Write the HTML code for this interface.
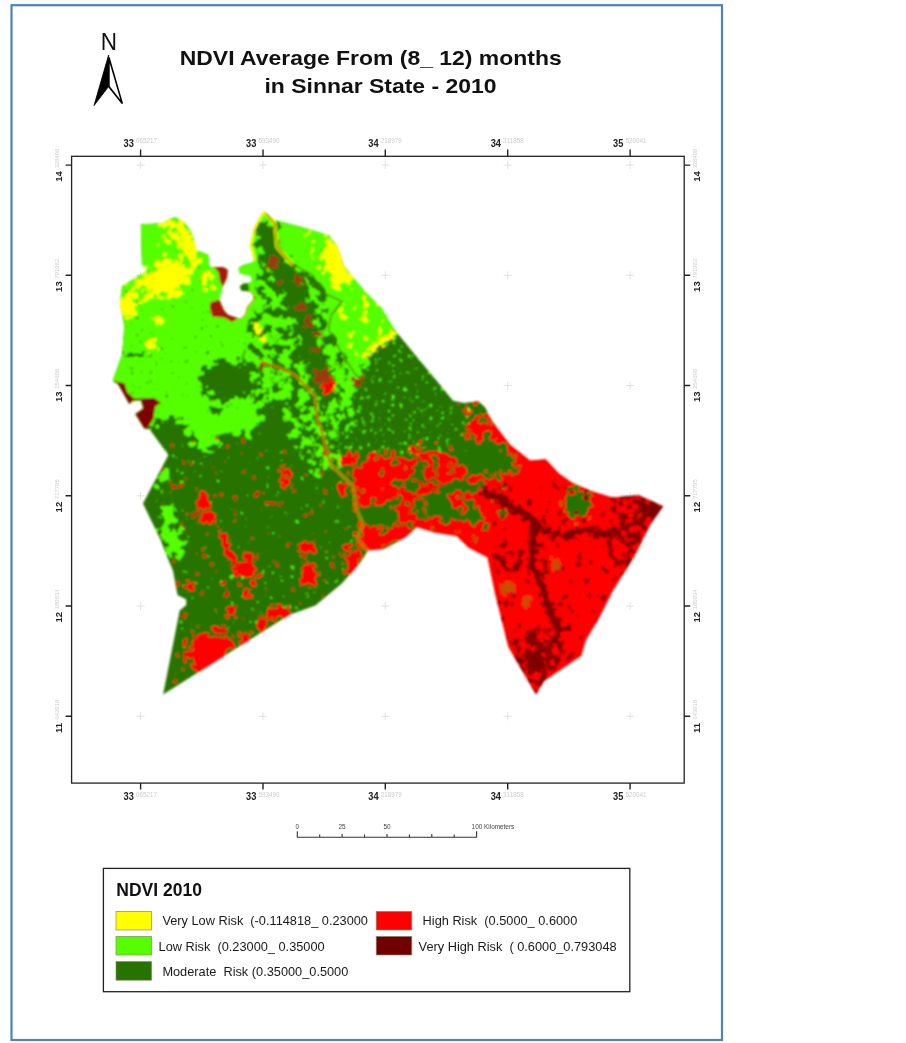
<!DOCTYPE html>
<html lang="en"><head><meta charset="utf-8"><title>NDVI Average From (8_ 12) months in Sinnar State - 2010</title>
<style>
html,body{margin:0;padding:0;background:#fff;}
body{width:906px;height:1043px;overflow:hidden;position:relative;font-family:"Liberation Sans",Arial,sans-serif;}
svg{position:absolute;left:0;top:0;display:block;}
text{font-family:"Liberation Sans",Arial,sans-serif;}
.t{font-weight:bold;font-size:21px;fill:#111;text-anchor:middle;}
.ax{font-weight:bold;font-size:9.5px;fill:#222;}
.sm{fill:#cdcdcd;font-weight:normal;}
.lg{font-size:12.78px;fill:#1a1a1a;white-space:pre;}
.sb{font-size:6.4px;fill:#444;}
</style></head><body>
<svg width="906" height="1043" viewBox="0 0 906 1043">
<defs>
<clipPath id="state"><path d="M140.8,224.3 L163.0,223.3 L168.0,219.5 L175.0,217.2 L184.5,222.0 L192.2,233.8 L195.5,247.0 L196.3,250.0 L208.2,254.8 L209.6,267.6 L214.4,267.3 L223.0,267.0 L227.8,269.7 L227.0,278.0 L223.0,286.0 L219.2,299.4 L222.0,306.0 L224.5,311.0 L228.0,314.8 L238.4,318.6 L241.5,318.0 L245.0,314.8 L247.0,307.0 L253.5,299.5 L253.5,295.5 L250.0,291.5 L241.5,290.8 L239.8,286.5 L243.0,283.8 L251.8,282.2 L251.5,276.0 L240.0,273.5 L238.4,268.5 L242.0,265.5 L253.7,262.0 L253.7,259.0 L250.0,244.8 L254.5,226.5 L263.4,211.0 L274.4,219.9 L300.0,226.5 L328.7,235.3 L337.5,246.4 L344.2,266.2 L353.0,277.3 L366.2,292.7 L381.7,308.2 L394.9,330.2 L414.8,354.5 L436.9,381.0 L453.0,400.8 L464.0,403.0 L478.3,401.3 L485.5,407.7 L489.3,416.5 L497.9,429.0 L510.4,444.9 L530.2,460.4 L545.7,459.3 L559.0,473.6 L572.7,483.1 L590.4,490.8 L612.5,497.5 L638.9,495.3 L663.2,506.3 L650.0,525.0 L634.5,556.0 L612.5,591.3 L599.2,617.8 L585.7,640.4 L581.3,655.8 L543.8,681.2 L536.0,694.5 L523.9,673.5 L508.4,647.0 L495.2,594.0 L487.5,557.6 L468.7,547.7 L456.6,535.9 L434.5,532.6 L416.9,527.0 L405.8,537.0 L383.8,549.1 L368.3,550.2 L359.5,563.5 L341.8,583.4 L315.3,605.4 L289.0,615.0 L231.5,651.3 L163.1,694.4 L179.7,610.5 L186.3,605.0 L186.3,599.5 L177.5,595.0 L173.0,570.8 L168.4,559.8 L159.6,537.8 L143.0,503.6 L168.4,455.0 L149.7,429.6 L144.2,428.5 L135.3,414.0 L143.0,408.6 L141.0,400.6 L133.0,401.2 L129.2,404.0 L119.3,386.3 L117.0,383.0 L113.3,382.0 L113.3,378.8 L122.1,354.5 L124.3,325.8 L119.9,303.8 L122.1,286.1 L147.5,270.6 L141.9,264.0Z"/></clipPath>
<filter id="fYs" x="-25%" y="-25%" width="150%" height="150%" color-interpolation-filters="sRGB"><feGaussianBlur in="SourceAlpha" stdDeviation="1.8" result="b"/><feTurbulence type="fractalNoise" baseFrequency="0.17" numOctaves="3" seed="1"/><feColorMatrix type="matrix" values="0 0 0 0 0 0 0 0 0 0 0 0 0 0 0 1 0 0 0 0" result="n"/><feComposite in="b" in2="n" operator="arithmetic" k1="0" k2="1" k3="4.0" k4="-2.0" result="a1"/><feColorMatrix in="b" type="matrix" values="0 0 0 0 0 0 0 0 0 0 0 0 0 0 0 0 0 0 40 -1.5" result="m"/><feComposite in="a1" in2="m" operator="arithmetic" k1="1" k2="0" k3="0" k4="0" result="a2"/><feColorMatrix in="b" type="matrix" values="0 0 0 0 0 0 0 0 0 0 0 0 0 0 0 0 0 0 6 -5" result="core"/><feComposite in="a2" in2="core" operator="arithmetic" k1="0" k2="1" k3="1" k4="0"/><feColorMatrix type="matrix" values="0 0 0 0 1.000 0 0 0 0 1.000 0 0 0 0 0.000 0 0 0 25 -12.5"/></filter>
<filter id="fYm" x="-25%" y="-25%" width="150%" height="150%" color-interpolation-filters="sRGB"><feGaussianBlur in="SourceAlpha" stdDeviation="3.6" result="b"/><feTurbulence type="fractalNoise" baseFrequency="0.12" numOctaves="3" seed="2"/><feColorMatrix type="matrix" values="0 0 0 0 0 0 0 0 0 0 0 0 0 0 0 1 0 0 0 0" result="n"/><feComposite in="b" in2="n" operator="arithmetic" k1="0" k2="1" k3="4.0" k4="-2.0" result="a1"/><feColorMatrix in="b" type="matrix" values="0 0 0 0 0 0 0 0 0 0 0 0 0 0 0 0 0 0 40 -1.5" result="m"/><feComposite in="a1" in2="m" operator="arithmetic" k1="1" k2="0" k3="0" k4="0" result="a2"/><feColorMatrix in="b" type="matrix" values="0 0 0 0 0 0 0 0 0 0 0 0 0 0 0 0 0 0 6 -5" result="core"/><feComposite in="a2" in2="core" operator="arithmetic" k1="0" k2="1" k3="1" k4="0"/><feColorMatrix type="matrix" values="0 0 0 0 1.000 0 0 0 0 1.000 0 0 0 0 0.000 0 0 0 25 -12.5"/></filter>
<filter id="fYl" x="-25%" y="-25%" width="150%" height="150%" color-interpolation-filters="sRGB"><feGaussianBlur in="SourceAlpha" stdDeviation="6.5" result="b"/><feTurbulence type="fractalNoise" baseFrequency="0.085" numOctaves="3" seed="3"/><feColorMatrix type="matrix" values="0 0 0 0 0 0 0 0 0 0 0 0 0 0 0 1 0 0 0 0" result="n"/><feComposite in="b" in2="n" operator="arithmetic" k1="0" k2="1" k3="4.0" k4="-2.0" result="a1"/><feColorMatrix in="b" type="matrix" values="0 0 0 0 0 0 0 0 0 0 0 0 0 0 0 0 0 0 40 -1.5" result="m"/><feComposite in="a1" in2="m" operator="arithmetic" k1="1" k2="0" k3="0" k4="0" result="a2"/><feColorMatrix in="b" type="matrix" values="0 0 0 0 0 0 0 0 0 0 0 0 0 0 0 0 0 0 6 -5" result="core"/><feComposite in="a2" in2="core" operator="arithmetic" k1="0" k2="1" k3="1" k4="0"/><feColorMatrix type="matrix" values="0 0 0 0 1.000 0 0 0 0 1.000 0 0 0 0 0.000 0 0 0 25 -12.5"/></filter>
<filter id="fLGs" x="-25%" y="-25%" width="150%" height="150%" color-interpolation-filters="sRGB"><feGaussianBlur in="SourceAlpha" stdDeviation="1.8" result="b"/><feTurbulence type="fractalNoise" baseFrequency="0.17" numOctaves="3" seed="4"/><feColorMatrix type="matrix" values="0 0 0 0 0 0 0 0 0 0 0 0 0 0 0 1 0 0 0 0" result="n"/><feComposite in="b" in2="n" operator="arithmetic" k1="0" k2="1" k3="4.0" k4="-2.0" result="a1"/><feColorMatrix in="b" type="matrix" values="0 0 0 0 0 0 0 0 0 0 0 0 0 0 0 0 0 0 40 -1.5" result="m"/><feComposite in="a1" in2="m" operator="arithmetic" k1="1" k2="0" k3="0" k4="0" result="a2"/><feColorMatrix in="b" type="matrix" values="0 0 0 0 0 0 0 0 0 0 0 0 0 0 0 0 0 0 6 -5" result="core"/><feComposite in="a2" in2="core" operator="arithmetic" k1="0" k2="1" k3="1" k4="0"/><feColorMatrix type="matrix" values="0 0 0 0 0.333 0 0 0 0 1.000 0 0 0 0 0.000 0 0 0 25 -12.5"/></filter>
<filter id="fLGm" x="-25%" y="-25%" width="150%" height="150%" color-interpolation-filters="sRGB"><feGaussianBlur in="SourceAlpha" stdDeviation="3.6" result="b"/><feTurbulence type="fractalNoise" baseFrequency="0.12" numOctaves="3" seed="5"/><feColorMatrix type="matrix" values="0 0 0 0 0 0 0 0 0 0 0 0 0 0 0 1 0 0 0 0" result="n"/><feComposite in="b" in2="n" operator="arithmetic" k1="0" k2="1" k3="4.0" k4="-2.0" result="a1"/><feColorMatrix in="b" type="matrix" values="0 0 0 0 0 0 0 0 0 0 0 0 0 0 0 0 0 0 40 -1.5" result="m"/><feComposite in="a1" in2="m" operator="arithmetic" k1="1" k2="0" k3="0" k4="0" result="a2"/><feColorMatrix in="b" type="matrix" values="0 0 0 0 0 0 0 0 0 0 0 0 0 0 0 0 0 0 6 -5" result="core"/><feComposite in="a2" in2="core" operator="arithmetic" k1="0" k2="1" k3="1" k4="0"/><feColorMatrix type="matrix" values="0 0 0 0 0.333 0 0 0 0 1.000 0 0 0 0 0.000 0 0 0 25 -12.5"/></filter>
<filter id="fLGl" x="-25%" y="-25%" width="150%" height="150%" color-interpolation-filters="sRGB"><feGaussianBlur in="SourceAlpha" stdDeviation="6.5" result="b"/><feTurbulence type="fractalNoise" baseFrequency="0.085" numOctaves="3" seed="6"/><feColorMatrix type="matrix" values="0 0 0 0 0 0 0 0 0 0 0 0 0 0 0 1 0 0 0 0" result="n"/><feComposite in="b" in2="n" operator="arithmetic" k1="0" k2="1" k3="4.0" k4="-2.0" result="a1"/><feColorMatrix in="b" type="matrix" values="0 0 0 0 0 0 0 0 0 0 0 0 0 0 0 0 0 0 40 -1.5" result="m"/><feComposite in="a1" in2="m" operator="arithmetic" k1="1" k2="0" k3="0" k4="0" result="a2"/><feColorMatrix in="b" type="matrix" values="0 0 0 0 0 0 0 0 0 0 0 0 0 0 0 0 0 0 6 -5" result="core"/><feComposite in="a2" in2="core" operator="arithmetic" k1="0" k2="1" k3="1" k4="0"/><feColorMatrix type="matrix" values="0 0 0 0 0.333 0 0 0 0 1.000 0 0 0 0 0.000 0 0 0 25 -12.5"/></filter>
<filter id="fDGs" x="-25%" y="-25%" width="150%" height="150%" color-interpolation-filters="sRGB"><feGaussianBlur in="SourceAlpha" stdDeviation="1.8" result="b"/><feTurbulence type="fractalNoise" baseFrequency="0.17" numOctaves="3" seed="7"/><feColorMatrix type="matrix" values="0 0 0 0 0 0 0 0 0 0 0 0 0 0 0 1 0 0 0 0" result="n"/><feComposite in="b" in2="n" operator="arithmetic" k1="0" k2="1" k3="4.0" k4="-2.0" result="a1"/><feColorMatrix in="b" type="matrix" values="0 0 0 0 0 0 0 0 0 0 0 0 0 0 0 0 0 0 40 -1.5" result="m"/><feComposite in="a1" in2="m" operator="arithmetic" k1="1" k2="0" k3="0" k4="0" result="a2"/><feColorMatrix in="b" type="matrix" values="0 0 0 0 0 0 0 0 0 0 0 0 0 0 0 0 0 0 6 -5" result="core"/><feComposite in="a2" in2="core" operator="arithmetic" k1="0" k2="1" k3="1" k4="0"/><feColorMatrix type="matrix" values="0 0 0 0 0.149 0 0 0 0 0.451 0 0 0 0 0.000 0 0 0 25 -12.5"/></filter>
<filter id="fDGm" x="-25%" y="-25%" width="150%" height="150%" color-interpolation-filters="sRGB"><feGaussianBlur in="SourceAlpha" stdDeviation="3.6" result="b"/><feTurbulence type="fractalNoise" baseFrequency="0.12" numOctaves="3" seed="8"/><feColorMatrix type="matrix" values="0 0 0 0 0 0 0 0 0 0 0 0 0 0 0 1 0 0 0 0" result="n"/><feComposite in="b" in2="n" operator="arithmetic" k1="0" k2="1" k3="4.0" k4="-2.0" result="a1"/><feColorMatrix in="b" type="matrix" values="0 0 0 0 0 0 0 0 0 0 0 0 0 0 0 0 0 0 40 -1.5" result="m"/><feComposite in="a1" in2="m" operator="arithmetic" k1="1" k2="0" k3="0" k4="0" result="a2"/><feColorMatrix in="b" type="matrix" values="0 0 0 0 0 0 0 0 0 0 0 0 0 0 0 0 0 0 6 -5" result="core"/><feComposite in="a2" in2="core" operator="arithmetic" k1="0" k2="1" k3="1" k4="0"/><feColorMatrix type="matrix" values="0 0 0 0 0.149 0 0 0 0 0.451 0 0 0 0 0.000 0 0 0 25 -12.5"/></filter>
<filter id="fDGl" x="-25%" y="-25%" width="150%" height="150%" color-interpolation-filters="sRGB"><feGaussianBlur in="SourceAlpha" stdDeviation="6.5" result="b"/><feTurbulence type="fractalNoise" baseFrequency="0.085" numOctaves="3" seed="9"/><feColorMatrix type="matrix" values="0 0 0 0 0 0 0 0 0 0 0 0 0 0 0 1 0 0 0 0" result="n"/><feComposite in="b" in2="n" operator="arithmetic" k1="0" k2="1" k3="4.0" k4="-2.0" result="a1"/><feColorMatrix in="b" type="matrix" values="0 0 0 0 0 0 0 0 0 0 0 0 0 0 0 0 0 0 40 -1.5" result="m"/><feComposite in="a1" in2="m" operator="arithmetic" k1="1" k2="0" k3="0" k4="0" result="a2"/><feColorMatrix in="b" type="matrix" values="0 0 0 0 0 0 0 0 0 0 0 0 0 0 0 0 0 0 6 -5" result="core"/><feComposite in="a2" in2="core" operator="arithmetic" k1="0" k2="1" k3="1" k4="0"/><feColorMatrix type="matrix" values="0 0 0 0 0.149 0 0 0 0 0.451 0 0 0 0 0.000 0 0 0 25 -12.5"/></filter>
<filter id="fRs" x="-25%" y="-25%" width="150%" height="150%" color-interpolation-filters="sRGB"><feGaussianBlur in="SourceAlpha" stdDeviation="1.8" result="b"/><feTurbulence type="fractalNoise" baseFrequency="0.17" numOctaves="3" seed="10"/><feColorMatrix type="matrix" values="0 0 0 0 0 0 0 0 0 0 0 0 0 0 0 1 0 0 0 0" result="n"/><feComposite in="b" in2="n" operator="arithmetic" k1="0" k2="1" k3="4.0" k4="-2.0" result="a1"/><feColorMatrix in="b" type="matrix" values="0 0 0 0 0 0 0 0 0 0 0 0 0 0 0 0 0 0 40 -1.5" result="m"/><feComposite in="a1" in2="m" operator="arithmetic" k1="1" k2="0" k3="0" k4="0" result="a2"/><feColorMatrix in="b" type="matrix" values="0 0 0 0 0 0 0 0 0 0 0 0 0 0 0 0 0 0 6 -5" result="core"/><feComposite in="a2" in2="core" operator="arithmetic" k1="0" k2="1" k3="1" k4="0"/><feColorMatrix type="matrix" values="0 0 0 0 1.000 0 0 0 0 0.000 0 0 0 0 0.000 0 0 0 25 -12.5"/></filter>
<filter id="fRm" x="-25%" y="-25%" width="150%" height="150%" color-interpolation-filters="sRGB"><feGaussianBlur in="SourceAlpha" stdDeviation="3.6" result="b"/><feTurbulence type="fractalNoise" baseFrequency="0.12" numOctaves="3" seed="11"/><feColorMatrix type="matrix" values="0 0 0 0 0 0 0 0 0 0 0 0 0 0 0 1 0 0 0 0" result="n"/><feComposite in="b" in2="n" operator="arithmetic" k1="0" k2="1" k3="4.0" k4="-2.0" result="a1"/><feColorMatrix in="b" type="matrix" values="0 0 0 0 0 0 0 0 0 0 0 0 0 0 0 0 0 0 40 -1.5" result="m"/><feComposite in="a1" in2="m" operator="arithmetic" k1="1" k2="0" k3="0" k4="0" result="a2"/><feColorMatrix in="b" type="matrix" values="0 0 0 0 0 0 0 0 0 0 0 0 0 0 0 0 0 0 6 -5" result="core"/><feComposite in="a2" in2="core" operator="arithmetic" k1="0" k2="1" k3="1" k4="0"/><feColorMatrix type="matrix" values="0 0 0 0 1.000 0 0 0 0 0.000 0 0 0 0 0.000 0 0 0 25 -12.5"/></filter>
<filter id="fRl" x="-25%" y="-25%" width="150%" height="150%" color-interpolation-filters="sRGB"><feGaussianBlur in="SourceAlpha" stdDeviation="6.5" result="b"/><feTurbulence type="fractalNoise" baseFrequency="0.085" numOctaves="3" seed="12"/><feColorMatrix type="matrix" values="0 0 0 0 0 0 0 0 0 0 0 0 0 0 0 1 0 0 0 0" result="n"/><feComposite in="b" in2="n" operator="arithmetic" k1="0" k2="1" k3="4.0" k4="-2.0" result="a1"/><feColorMatrix in="b" type="matrix" values="0 0 0 0 0 0 0 0 0 0 0 0 0 0 0 0 0 0 40 -1.5" result="m"/><feComposite in="a1" in2="m" operator="arithmetic" k1="1" k2="0" k3="0" k4="0" result="a2"/><feColorMatrix in="b" type="matrix" values="0 0 0 0 0 0 0 0 0 0 0 0 0 0 0 0 0 0 6 -5" result="core"/><feComposite in="a2" in2="core" operator="arithmetic" k1="0" k2="1" k3="1" k4="0"/><feColorMatrix type="matrix" values="0 0 0 0 1.000 0 0 0 0 0.000 0 0 0 0 0.000 0 0 0 25 -12.5"/></filter>
<filter id="fDRs" x="-25%" y="-25%" width="150%" height="150%" color-interpolation-filters="sRGB"><feGaussianBlur in="SourceAlpha" stdDeviation="1.8" result="b"/><feTurbulence type="fractalNoise" baseFrequency="0.17" numOctaves="3" seed="13"/><feColorMatrix type="matrix" values="0 0 0 0 0 0 0 0 0 0 0 0 0 0 0 1 0 0 0 0" result="n"/><feComposite in="b" in2="n" operator="arithmetic" k1="0" k2="1" k3="4.0" k4="-2.0" result="a1"/><feColorMatrix in="b" type="matrix" values="0 0 0 0 0 0 0 0 0 0 0 0 0 0 0 0 0 0 40 -1.5" result="m"/><feComposite in="a1" in2="m" operator="arithmetic" k1="1" k2="0" k3="0" k4="0" result="a2"/><feColorMatrix in="b" type="matrix" values="0 0 0 0 0 0 0 0 0 0 0 0 0 0 0 0 0 0 6 -5" result="core"/><feComposite in="a2" in2="core" operator="arithmetic" k1="0" k2="1" k3="1" k4="0"/><feColorMatrix type="matrix" values="0 0 0 0 0.502 0 0 0 0 0.000 0 0 0 0 0.000 0 0 0 25 -12.5"/></filter>
<filter id="fDRm" x="-25%" y="-25%" width="150%" height="150%" color-interpolation-filters="sRGB"><feGaussianBlur in="SourceAlpha" stdDeviation="3.6" result="b"/><feTurbulence type="fractalNoise" baseFrequency="0.12" numOctaves="3" seed="14"/><feColorMatrix type="matrix" values="0 0 0 0 0 0 0 0 0 0 0 0 0 0 0 1 0 0 0 0" result="n"/><feComposite in="b" in2="n" operator="arithmetic" k1="0" k2="1" k3="4.0" k4="-2.0" result="a1"/><feColorMatrix in="b" type="matrix" values="0 0 0 0 0 0 0 0 0 0 0 0 0 0 0 0 0 0 40 -1.5" result="m"/><feComposite in="a1" in2="m" operator="arithmetic" k1="1" k2="0" k3="0" k4="0" result="a2"/><feColorMatrix in="b" type="matrix" values="0 0 0 0 0 0 0 0 0 0 0 0 0 0 0 0 0 0 6 -5" result="core"/><feComposite in="a2" in2="core" operator="arithmetic" k1="0" k2="1" k3="1" k4="0"/><feColorMatrix type="matrix" values="0 0 0 0 0.502 0 0 0 0 0.000 0 0 0 0 0.000 0 0 0 25 -12.5"/></filter>
<filter id="fDRl" x="-25%" y="-25%" width="150%" height="150%" color-interpolation-filters="sRGB"><feGaussianBlur in="SourceAlpha" stdDeviation="6.5" result="b"/><feTurbulence type="fractalNoise" baseFrequency="0.085" numOctaves="3" seed="15"/><feColorMatrix type="matrix" values="0 0 0 0 0 0 0 0 0 0 0 0 0 0 0 1 0 0 0 0" result="n"/><feComposite in="b" in2="n" operator="arithmetic" k1="0" k2="1" k3="4.0" k4="-2.0" result="a1"/><feColorMatrix in="b" type="matrix" values="0 0 0 0 0 0 0 0 0 0 0 0 0 0 0 0 0 0 40 -1.5" result="m"/><feComposite in="a1" in2="m" operator="arithmetic" k1="1" k2="0" k3="0" k4="0" result="a2"/><feColorMatrix in="b" type="matrix" values="0 0 0 0 0 0 0 0 0 0 0 0 0 0 0 0 0 0 6 -5" result="core"/><feComposite in="a2" in2="core" operator="arithmetic" k1="0" k2="1" k3="1" k4="0"/><feColorMatrix type="matrix" values="0 0 0 0 0.502 0 0 0 0 0.000 0 0 0 0 0.000 0 0 0 25 -12.5"/></filter>
<filter id="fBRs" x="-25%" y="-25%" width="150%" height="150%" color-interpolation-filters="sRGB"><feGaussianBlur in="SourceAlpha" stdDeviation="1.8" result="b"/><feTurbulence type="fractalNoise" baseFrequency="0.17" numOctaves="3" seed="16"/><feColorMatrix type="matrix" values="0 0 0 0 0 0 0 0 0 0 0 0 0 0 0 1 0 0 0 0" result="n"/><feComposite in="b" in2="n" operator="arithmetic" k1="0" k2="1" k3="4.0" k4="-2.0" result="a1"/><feColorMatrix in="b" type="matrix" values="0 0 0 0 0 0 0 0 0 0 0 0 0 0 0 0 0 0 40 -1.5" result="m"/><feComposite in="a1" in2="m" operator="arithmetic" k1="1" k2="0" k3="0" k4="0" result="a2"/><feColorMatrix in="b" type="matrix" values="0 0 0 0 0 0 0 0 0 0 0 0 0 0 0 0 0 0 6 -5" result="core"/><feComposite in="a2" in2="core" operator="arithmetic" k1="0" k2="1" k3="1" k4="0"/><feColorMatrix type="matrix" values="0 0 0 0 0.604 0 0 0 0 0.227 0 0 0 0 0.039 0 0 0 25 -12.5"/></filter>
<filter id="fBRm" x="-25%" y="-25%" width="150%" height="150%" color-interpolation-filters="sRGB"><feGaussianBlur in="SourceAlpha" stdDeviation="3.6" result="b"/><feTurbulence type="fractalNoise" baseFrequency="0.12" numOctaves="3" seed="17"/><feColorMatrix type="matrix" values="0 0 0 0 0 0 0 0 0 0 0 0 0 0 0 1 0 0 0 0" result="n"/><feComposite in="b" in2="n" operator="arithmetic" k1="0" k2="1" k3="4.0" k4="-2.0" result="a1"/><feColorMatrix in="b" type="matrix" values="0 0 0 0 0 0 0 0 0 0 0 0 0 0 0 0 0 0 40 -1.5" result="m"/><feComposite in="a1" in2="m" operator="arithmetic" k1="1" k2="0" k3="0" k4="0" result="a2"/><feColorMatrix in="b" type="matrix" values="0 0 0 0 0 0 0 0 0 0 0 0 0 0 0 0 0 0 6 -5" result="core"/><feComposite in="a2" in2="core" operator="arithmetic" k1="0" k2="1" k3="1" k4="0"/><feColorMatrix type="matrix" values="0 0 0 0 0.604 0 0 0 0 0.227 0 0 0 0 0.039 0 0 0 25 -12.5"/></filter>
<filter id="fBRl" x="-25%" y="-25%" width="150%" height="150%" color-interpolation-filters="sRGB"><feGaussianBlur in="SourceAlpha" stdDeviation="6.5" result="b"/><feTurbulence type="fractalNoise" baseFrequency="0.085" numOctaves="3" seed="18"/><feColorMatrix type="matrix" values="0 0 0 0 0 0 0 0 0 0 0 0 0 0 0 1 0 0 0 0" result="n"/><feComposite in="b" in2="n" operator="arithmetic" k1="0" k2="1" k3="4.0" k4="-2.0" result="a1"/><feColorMatrix in="b" type="matrix" values="0 0 0 0 0 0 0 0 0 0 0 0 0 0 0 0 0 0 40 -1.5" result="m"/><feComposite in="a1" in2="m" operator="arithmetic" k1="1" k2="0" k3="0" k4="0" result="a2"/><feColorMatrix in="b" type="matrix" values="0 0 0 0 0 0 0 0 0 0 0 0 0 0 0 0 0 0 6 -5" result="core"/><feComposite in="a2" in2="core" operator="arithmetic" k1="0" k2="1" k3="1" k4="0"/><feColorMatrix type="matrix" values="0 0 0 0 0.604 0 0 0 0 0.227 0 0 0 0 0.039 0 0 0 25 -12.5"/></filter>
<filter id="fOLs" x="-25%" y="-25%" width="150%" height="150%" color-interpolation-filters="sRGB"><feGaussianBlur in="SourceAlpha" stdDeviation="1.8" result="b"/><feTurbulence type="fractalNoise" baseFrequency="0.17" numOctaves="3" seed="19"/><feColorMatrix type="matrix" values="0 0 0 0 0 0 0 0 0 0 0 0 0 0 0 1 0 0 0 0" result="n"/><feComposite in="b" in2="n" operator="arithmetic" k1="0" k2="1" k3="4.0" k4="-2.0" result="a1"/><feColorMatrix in="b" type="matrix" values="0 0 0 0 0 0 0 0 0 0 0 0 0 0 0 0 0 0 40 -1.5" result="m"/><feComposite in="a1" in2="m" operator="arithmetic" k1="1" k2="0" k3="0" k4="0" result="a2"/><feColorMatrix in="b" type="matrix" values="0 0 0 0 0 0 0 0 0 0 0 0 0 0 0 0 0 0 6 -5" result="core"/><feComposite in="a2" in2="core" operator="arithmetic" k1="0" k2="1" k3="1" k4="0"/><feColorMatrix type="matrix" values="0 0 0 0 0.784 0 0 0 0 0.314 0 0 0 0 0.000 0 0 0 25 -12.5"/></filter>
<filter id="fOLm" x="-25%" y="-25%" width="150%" height="150%" color-interpolation-filters="sRGB"><feGaussianBlur in="SourceAlpha" stdDeviation="3.6" result="b"/><feTurbulence type="fractalNoise" baseFrequency="0.12" numOctaves="3" seed="20"/><feColorMatrix type="matrix" values="0 0 0 0 0 0 0 0 0 0 0 0 0 0 0 1 0 0 0 0" result="n"/><feComposite in="b" in2="n" operator="arithmetic" k1="0" k2="1" k3="4.0" k4="-2.0" result="a1"/><feColorMatrix in="b" type="matrix" values="0 0 0 0 0 0 0 0 0 0 0 0 0 0 0 0 0 0 40 -1.5" result="m"/><feComposite in="a1" in2="m" operator="arithmetic" k1="1" k2="0" k3="0" k4="0" result="a2"/><feColorMatrix in="b" type="matrix" values="0 0 0 0 0 0 0 0 0 0 0 0 0 0 0 0 0 0 6 -5" result="core"/><feComposite in="a2" in2="core" operator="arithmetic" k1="0" k2="1" k3="1" k4="0"/><feColorMatrix type="matrix" values="0 0 0 0 0.784 0 0 0 0 0.314 0 0 0 0 0.000 0 0 0 25 -12.5"/></filter>
<filter id="fOLl" x="-25%" y="-25%" width="150%" height="150%" color-interpolation-filters="sRGB"><feGaussianBlur in="SourceAlpha" stdDeviation="6.5" result="b"/><feTurbulence type="fractalNoise" baseFrequency="0.085" numOctaves="3" seed="21"/><feColorMatrix type="matrix" values="0 0 0 0 0 0 0 0 0 0 0 0 0 0 0 1 0 0 0 0" result="n"/><feComposite in="b" in2="n" operator="arithmetic" k1="0" k2="1" k3="4.0" k4="-2.0" result="a1"/><feColorMatrix in="b" type="matrix" values="0 0 0 0 0 0 0 0 0 0 0 0 0 0 0 0 0 0 40 -1.5" result="m"/><feComposite in="a1" in2="m" operator="arithmetic" k1="1" k2="0" k3="0" k4="0" result="a2"/><feColorMatrix in="b" type="matrix" values="0 0 0 0 0 0 0 0 0 0 0 0 0 0 0 0 0 0 6 -5" result="core"/><feComposite in="a2" in2="core" operator="arithmetic" k1="0" k2="1" k3="1" k4="0"/><feColorMatrix type="matrix" values="0 0 0 0 0.784 0 0 0 0 0.314 0 0 0 0 0.000 0 0 0 25 -12.5"/></filter>
<filter id="mDG" x="0" y="0" width="100%" height="100%" color-interpolation-filters="sRGB"><feTurbulence type="fractalNoise" baseFrequency="0.11" numOctaves="4" seed="11"/><feColorMatrix type="matrix" values="0 0 0 0 0.149 0 0 0 0 0.451 0 0 0 0 0.000 30 0 0 0 -15.00"/><feComposite operator="in" in2="SourceGraphic"/></filter>
<filter id="mDG2" x="0" y="0" width="100%" height="100%" color-interpolation-filters="sRGB"><feTurbulence type="fractalNoise" baseFrequency="0.1" numOctaves="3" seed="21"/><feColorMatrix type="matrix" values="0 0 0 0 0.149 0 0 0 0 0.451 0 0 0 0 0.000 30 0 0 0 -17.10"/><feComposite operator="in" in2="SourceGraphic"/></filter>
<filter id="sLG" x="0" y="0" width="100%" height="100%" color-interpolation-filters="sRGB"><feTurbulence type="fractalNoise" baseFrequency="0.24" numOctaves="2" seed="4"/><feColorMatrix type="matrix" values="0 0 0 0 0.333 0 0 0 0 1.000 0 0 0 0 0.000 30 0 0 0 -20.70"/><feComposite operator="in" in2="SourceGraphic"/></filter>
<filter id="sLG2" x="0" y="0" width="100%" height="100%" color-interpolation-filters="sRGB"><feTurbulence type="fractalNoise" baseFrequency="0.11" numOctaves="3" seed="14"/><feColorMatrix type="matrix" values="0 0 0 0 0.333 0 0 0 0 1.000 0 0 0 0 0.000 30 0 0 0 -17.40"/><feComposite operator="in" in2="SourceGraphic"/></filter>
<filter id="sR" x="0" y="0" width="100%" height="100%" color-interpolation-filters="sRGB"><feTurbulence type="fractalNoise" baseFrequency="0.1" numOctaves="3" seed="8"/><feColorMatrix type="matrix" values="0 0 0 0 0.878 0 0 0 0 0.094 0 0 0 0 0.000 30 0 0 0 -21.60"/><feComposite operator="in" in2="SourceGraphic"/></filter>
<filter id="sR2" x="0" y="0" width="100%" height="100%" color-interpolation-filters="sRGB"><feTurbulence type="fractalNoise" baseFrequency="0.08" numOctaves="3" seed="18"/><feColorMatrix type="matrix" values="0 0 0 0 1.000 0 0 0 0 0.000 0 0 0 0 0.000 30 0 0 0 -16.50"/><feComposite operator="in" in2="SourceGraphic"/></filter>
<filter id="sDG" x="0" y="0" width="100%" height="100%" color-interpolation-filters="sRGB"><feTurbulence type="fractalNoise" baseFrequency="0.1" numOctaves="3" seed="31"/><feColorMatrix type="matrix" values="0 0 0 0 0.149 0 0 0 0 0.451 0 0 0 0 0.000 30 0 0 0 -19.20"/><feComposite operator="in" in2="SourceGraphic"/></filter>
<filter id="sDGs" x="0" y="0" width="100%" height="100%" color-interpolation-filters="sRGB"><feTurbulence type="fractalNoise" baseFrequency="0.2" numOctaves="3" seed="33"/><feColorMatrix type="matrix" values="0 0 0 0 0.149 0 0 0 0 0.451 0 0 0 0 0.000 30 0 0 0 -22.50"/><feComposite operator="in" in2="SourceGraphic"/></filter>
<filter id="sDR" x="0" y="0" width="100%" height="100%" color-interpolation-filters="sRGB"><feTurbulence type="fractalNoise" baseFrequency="0.12" numOctaves="3" seed="41"/><feColorMatrix type="matrix" values="0 0 0 0 0.502 0 0 0 0 0.000 0 0 0 0 0.000 30 0 0 0 -19.80"/><feComposite operator="in" in2="SourceGraphic"/></filter>
<filter id="sY" x="0" y="0" width="100%" height="100%" color-interpolation-filters="sRGB"><feTurbulence type="fractalNoise" baseFrequency="0.13" numOctaves="3" seed="51"/><feColorMatrix type="matrix" values="0 0 0 0 1.000 0 0 0 0 1.000 0 0 0 0 0.000 30 0 0 0 -19.20"/><feComposite operator="in" in2="SourceGraphic"/></filter>
<filter id="sY2" x="0" y="0" width="100%" height="100%" color-interpolation-filters="sRGB"><feTurbulence type="fractalNoise" baseFrequency="0.14" numOctaves="3" seed="52"/><feColorMatrix type="matrix" values="0 0 0 0 1.000 0 0 0 0 1.000 0 0 0 0 0.000 30 0 0 0 -15.45"/><feComposite operator="in" in2="SourceGraphic"/></filter>
<filter id="mDG3" x="0" y="0" width="100%" height="100%" color-interpolation-filters="sRGB"><feTurbulence type="fractalNoise" baseFrequency="0.075" numOctaves="3" seed="71"/><feColorMatrix type="matrix" values="0 0 0 0 0.149 0 0 0 0 0.451 0 0 0 0 0.000 30 0 0 0 -15.45"/><feComposite operator="in" in2="SourceGraphic"/></filter>
<filter id="mDR" x="0" y="0" width="100%" height="100%" color-interpolation-filters="sRGB"><feTurbulence type="fractalNoise" baseFrequency="0.11" numOctaves="3" seed="81"/><feColorMatrix type="matrix" values="0 0 0 0 0.502 0 0 0 0 0.000 0 0 0 0 0.000 30 0 0 0 -16.05"/><feComposite operator="in" in2="SourceGraphic"/></filter>
<filter id="sLG3" x="0" y="0" width="100%" height="100%" color-interpolation-filters="sRGB"><feTurbulence type="fractalNoise" baseFrequency="0.2" numOctaves="2" seed="91"/><feColorMatrix type="matrix" values="0 0 0 0 0.333 0 0 0 0 1.000 0 0 0 0 0.000 30 0 0 0 -22.50"/><feComposite operator="in" in2="SourceGraphic"/></filter>
<filter id="sLG4" x="0" y="0" width="100%" height="100%" color-interpolation-filters="sRGB"><feTurbulence type="fractalNoise" baseFrequency="0.13" numOctaves="4" seed="15"/><feColorMatrix type="matrix" values="0 0 0 0 0.333 0 0 0 0 1.000 0 0 0 0 0.000 30 0 0 0 -15.90"/><feComposite operator="in" in2="SourceGraphic"/></filter>
<filter id="mDR2" x="0" y="0" width="100%" height="100%" color-interpolation-filters="sRGB"><feTurbulence type="fractalNoise" baseFrequency="0.15" numOctaves="4" seed="83"/><feColorMatrix type="matrix" values="0 0 0 0 0.541 0 0 0 0 0.000 0 0 0 0 0.000 30 0 0 0 -15.00"/><feComposite operator="in" in2="SourceGraphic"/></filter>
<filter id="sBR" x="0" y="0" width="100%" height="100%" color-interpolation-filters="sRGB"><feTurbulence type="fractalNoise" baseFrequency="0.1" numOctaves="3" seed="61"/><feColorMatrix type="matrix" values="0 0 0 0 0.604 0 0 0 0 0.227 0 0 0 0 0.039 30 0 0 0 -18.00"/><feComposite operator="in" in2="SourceGraphic"/></filter>
<filter id="soft" x="-2%" y="-2%" width="104%" height="104%"><feGaussianBlur stdDeviation="0.85"/></filter>
</defs>
<rect x="11.5" y="5.2" width="710.5" height="1034.8" fill="#fff" stroke="#4f81bd" stroke-width="2.2"/>
<text class="t" transform="translate(370.7,65) scale(1.093,1)">NDVI Average From (8_ 12) months</text>
<text class="t" transform="translate(380.5,93) scale(1.093,1)">in Sinnar State - 2010</text>
<text transform="translate(109,49.9) scale(1,1.03)" font-size="22.5" text-anchor="middle" fill="#111">N</text>
<path d="M108.6,55 L94,105.6 L108.4,86.8 Z" fill="#000" stroke="#000" stroke-width="0.8" stroke-linejoin="miter"/>
<path d="M108.9,57.5 L122.3,103.6 L108.9,86.6 Z" fill="#fff" stroke="#000" stroke-width="1.6" stroke-linejoin="miter"/>
<rect x="71.6" y="156.3" width="612.6" height="626.8" fill="#fff" stroke="#222" stroke-width="1.3"/>
<path d="M136.6,165.1h8M140.6,161.1v8M136.6,275.3h8M140.6,271.3v8M136.6,385.5h8M140.6,381.5v8M136.6,495.8h8M140.6,491.8v8M136.6,606.0h8M140.6,602.0v8M136.6,716.3h8M140.6,712.3v8M259.0,165.1h8M263.0,161.1v8M259.0,275.3h8M263.0,271.3v8M259.0,385.5h8M263.0,381.5v8M259.0,495.8h8M263.0,491.8v8M259.0,606.0h8M263.0,602.0v8M259.0,716.3h8M263.0,712.3v8M381.3,165.1h8M385.3,161.1v8M381.3,275.3h8M385.3,271.3v8M381.3,385.5h8M385.3,381.5v8M381.3,495.8h8M385.3,491.8v8M381.3,606.0h8M385.3,602.0v8M381.3,716.3h8M385.3,712.3v8M503.7,165.1h8M507.7,161.1v8M503.7,275.3h8M507.7,271.3v8M503.7,385.5h8M507.7,381.5v8M503.7,495.8h8M507.7,491.8v8M503.7,606.0h8M507.7,602.0v8M503.7,716.3h8M507.7,712.3v8M626.1,165.1h8M630.1,161.1v8M626.1,275.3h8M630.1,271.3v8M626.1,385.5h8M630.1,381.5v8M626.1,495.8h8M630.1,491.8v8M626.1,606.0h8M630.1,602.0v8M626.1,716.3h8M630.1,712.3v8" stroke="#d9d9d9" stroke-width="0.8" fill="none"/>
<path d="M140.6,149.5V156.3M140.6,783.1V789.5M263.0,149.5V156.3M263.0,783.1V789.5M385.3,149.5V156.3M385.3,783.1V789.5M507.7,149.5V156.3M507.7,783.1V789.5M630.1,149.5V156.3M630.1,783.1V789.5M65.6,165.1H71.6M684.2,165.1H690.2M65.6,275.3H71.6M684.2,275.3H690.2M65.6,385.5H71.6M684.2,385.5H690.2M65.6,495.8H71.6M684.2,495.8H690.2M65.6,606.0H71.6M684.2,606.0H690.2M65.6,716.3H71.6M684.2,716.3H690.2" stroke="#222" stroke-width="1.4" fill="none"/>
<text class="ax" transform="translate(123.6,146.8) scale(0.8,1)" style="font-size:11.6px">33</text>
<text class="sm" x="136.0" y="143.4" font-size="6.3">065217</text>
<text class="ax" transform="translate(123.6,800.4) scale(0.8,1)" style="font-size:11.6px">33</text>
<text class="sm" x="136.0" y="797.0" font-size="6.3">065217</text>
<text class="ax" transform="translate(246.0,146.8) scale(0.8,1)" style="font-size:11.6px">33</text>
<text class="sm" x="258.4" y="143.4" font-size="6.3">593490</text>
<text class="ax" transform="translate(246.0,800.4) scale(0.8,1)" style="font-size:11.6px">33</text>
<text class="sm" x="258.4" y="797.0" font-size="6.3">593490</text>
<text class="ax" transform="translate(368.3,146.8) scale(0.8,1)" style="font-size:11.6px">34</text>
<text class="sm" x="380.7" y="143.4" font-size="6.3">218979</text>
<text class="ax" transform="translate(368.3,800.4) scale(0.8,1)" style="font-size:11.6px">34</text>
<text class="sm" x="380.7" y="797.0" font-size="6.3">218979</text>
<text class="ax" transform="translate(490.7,146.8) scale(0.8,1)" style="font-size:11.6px">34</text>
<text class="sm" x="503.1" y="143.4" font-size="6.3">311858</text>
<text class="ax" transform="translate(490.7,800.4) scale(0.8,1)" style="font-size:11.6px">34</text>
<text class="sm" x="503.1" y="797.0" font-size="6.3">311858</text>
<text class="ax" transform="translate(613.1,146.8) scale(0.8,1)" style="font-size:11.6px">35</text>
<text class="sm" x="625.5" y="143.4" font-size="6.3">520041</text>
<text class="ax" transform="translate(613.1,800.4) scale(0.8,1)" style="font-size:11.6px">35</text>
<text class="sm" x="625.5" y="797.0" font-size="6.3">520041</text>
<text class="ax" transform="translate(61.7,181.7) rotate(-90)">14</text>
<text class="sm" transform="translate(58.6,168.3) rotate(-90)" font-size="5.9">328408</text>
<text class="ax" transform="translate(699.7,181.7) rotate(-90)">14</text>
<text class="sm" transform="translate(696.6,168.3) rotate(-90)" font-size="5.9">328408</text>
<text class="ax" transform="translate(61.7,291.9) rotate(-90)">13</text>
<text class="sm" transform="translate(58.6,278.5) rotate(-90)" font-size="5.9">791982</text>
<text class="ax" transform="translate(699.7,291.9) rotate(-90)">13</text>
<text class="sm" transform="translate(696.6,278.5) rotate(-90)" font-size="5.9">791982</text>
<text class="ax" transform="translate(61.7,402.1) rotate(-90)">13</text>
<text class="sm" transform="translate(58.6,388.7) rotate(-90)" font-size="5.9">254698</text>
<text class="ax" transform="translate(699.7,402.1) rotate(-90)">13</text>
<text class="sm" transform="translate(696.6,388.7) rotate(-90)" font-size="5.9">254698</text>
<text class="ax" transform="translate(61.7,512.4) rotate(-90)">12</text>
<text class="sm" transform="translate(58.6,499.0) rotate(-90)" font-size="5.9">717795</text>
<text class="ax" transform="translate(699.7,512.4) rotate(-90)">12</text>
<text class="sm" transform="translate(696.6,499.0) rotate(-90)" font-size="5.9">717795</text>
<text class="ax" transform="translate(61.7,622.6) rotate(-90)">12</text>
<text class="sm" transform="translate(58.6,609.2) rotate(-90)" font-size="5.9">180834</text>
<text class="ax" transform="translate(699.7,622.6) rotate(-90)">12</text>
<text class="sm" transform="translate(696.6,609.2) rotate(-90)" font-size="5.9">180834</text>
<text class="ax" transform="translate(61.7,732.9) rotate(-90)">11</text>
<text class="sm" transform="translate(58.6,719.5) rotate(-90)" font-size="5.9">643918</text>
<text class="ax" transform="translate(699.7,732.9) rotate(-90)">11</text>
<text class="sm" transform="translate(696.6,719.5) rotate(-90)" font-size="5.9">643918</text>
<g filter="url(#soft)"><g clip-path="url(#state)">
<rect x="100" y="200" width="580" height="510" fill="#267300"/>
<path d="M60.0,436.0 L149.0,430.0 L158.7,420.0 L185.0,417.7 L187.4,431.0 L194.0,444.0 L211.7,448.6 L220.5,437.5 L236.0,433.0 L253.6,435.3 L260.0,426.5 L258.0,413.0 L267.0,404.4 L284.5,400.0 L300.0,402.0 L320.0,405.0 L336.0,415.0 L345.0,408.0 L350.0,395.0 L356.0,380.0 L362.0,365.0 L372.0,350.0 L385.0,340.0 L396.0,331.0 L460.0,345.0 L460.0,150.0 L60.0,150.0Z" fill="#000" filter="url(#fLGm)"/>
<path d="M204.0,372.0 L215.0,362.0 L232.0,360.0 L246.0,366.0 L254.0,378.0 L252.0,392.0 L240.0,398.0 L226.0,400.0 L222.0,412.0 L214.0,410.0 L216.0,398.0 L206.0,392.0 L200.0,382.0Z" fill="#000" filter="url(#fDGm)"/>
<path d="M258.0,232.0 L266.0,222.0 L276.0,232.0 L279.0,247.0 L293.0,263.0 L313.0,274.0 L325.0,289.0 L330.0,305.0 L326.0,320.0 L332.0,332.0 L343.0,346.0 L350.0,362.0 L345.0,392.0 L335.0,420.0 L300.0,420.0 L262.0,410.0 L244.0,400.0 L240.0,370.0 L244.0,345.0 L248.0,322.0 L254.0,300.0 L256.0,282.0 L258.0,262.0 L256.0,245.0Z" fill="#000" filter="url(#mDG)"/>
<path d="M266.0,232.0 L270.0,250.0 L285.0,275.0 L297.0,300.0 L305.0,325.0 L312.0,350.0 L320.0,375.0 L326.0,395.0" fill="none" stroke="#000" stroke-width="22" stroke-linejoin="round" stroke-linecap="round" filter="url(#fDGm)"/>
<path d="M267.2,256.4 L277.1,255.8 L277.8,267.6 L267.9,268.2Z" fill="#000" filter="url(#fBRs)"/>
<path d="M294.9,275.9 L304.2,275.9 L304.2,285.1 L295.6,285.1Z" fill="#000" filter="url(#fBRs)"/>
<path d="M295.3,302.9 L305.9,302.9 L305.9,309.1 L295.9,309.1Z" fill="#000" filter="url(#fBRs)"/>
<path d="M304.9,316.3 L310.5,315.7 L311.1,327.5 L305.5,327.5Z" fill="#000" filter="url(#fBRs)"/>
<path d="M314.4,330.7 L321.8,330.7 L321.8,336.3 L315.0,336.3Z" fill="#000" filter="url(#fBRs)"/>
<path d="M312.0,347.9 L318.2,347.9 L318.2,354.1 L312.6,354.1Z" fill="#000" filter="url(#fBRs)"/>
<path d="M278.1,277.5 L281.9,277.5 L281.9,285.5 L278.1,285.5Z" fill="#000" filter="url(#fBRs)"/>
<path d="M261.5,362.7 L266.5,362.7 L266.5,368.3 L261.5,368.3Z" fill="#000" filter="url(#fBRs)"/>
<path d="M241.5,318.0 L245.0,314.8 L247.0,307.0 L253.5,299.5 L253.5,295.5 L250.0,291.5" fill="none" stroke="#b8b000" stroke-width="2.4" stroke-linejoin="round" stroke-linecap="round"/>
<path d="M253.7,259.0 L250.0,244.8 L254.5,226.5 L263.4,211.0 L274.4,219.9" fill="none" stroke="#ffff00" stroke-width="4" stroke-linejoin="round" stroke-linecap="round"/>
<path d="M265.6,213.0 L275.0,224.4 L277.0,247.0 L292.0,264.0" fill="none" stroke="#ffff00" stroke-width="3.5" stroke-linejoin="round" stroke-linecap="round"/>
<path d="M256.0,325.0 L260.0,334.0 L264.0,343.0" fill="none" stroke="#000" stroke-width="4" stroke-linejoin="round" stroke-linecap="round" filter="url(#fYs)"/>
<path d="M120.0,280.0 L230.0,260.0 L245.0,330.0 L240.0,420.0 L120.0,420.0Z" fill="#000" filter="url(#sDGs)"/>
<path d="M120.0,352.0 L135.0,356.0 L150.0,354.0" fill="none" stroke="#000" stroke-width="3" stroke-linejoin="round" stroke-linecap="round" filter="url(#fDGs)"/>
<path d="M176.0,219.0 L186.0,223.0 L195.0,237.0 L198.0,249.0 L197.0,262.0 L186.0,265.0 L181.0,250.0 L178.0,238.0 L172.0,229.0 L165.0,225.0 L158.0,227.0 L153.0,223.0 L160.0,219.0 L172.0,215.0Z" fill="#000" filter="url(#fYm)"/>
<path d="M152.0,222.0 L178.0,224.0 L184.0,256.0 L160.0,256.0Z" fill="#000" filter="url(#sY)"/>
<path d="M147.0,271.0 L160.0,264.0 L172.0,262.0 L187.0,262.0 L193.0,270.0 L187.0,284.0 L175.0,293.0 L160.0,297.0 L149.0,291.0Z" fill="#000" filter="url(#fYm)"/>
<path d="M119.0,288.0 L136.0,274.0 L152.0,272.0 L154.0,298.0 L140.0,304.0 L121.0,304.0Z" fill="#000" filter="url(#sY2)"/>
<path d="M120.0,300.0 L132.0,298.0 L138.0,308.0 L132.0,318.0 L122.0,316.0Z" fill="#000" filter="url(#fYs)"/>
<path d="M153.0,316.0 L161.0,314.0 L163.0,322.0 L156.0,326.0Z" fill="#000" filter="url(#fYs)"/>
<path d="M146.0,342.0 L156.0,340.0 L158.0,348.0 L148.0,352.0Z" fill="#000" filter="url(#fYs)"/>
<path d="M201.0,272.0 L214.0,270.0 L216.0,290.0 L203.0,292.0Z" fill="#000" filter="url(#sY2)"/>
<path d="M324.0,246.0 L336.0,244.0 L346.0,258.0 L352.0,274.0 L346.0,286.0 L334.0,284.0 L326.0,270.0 L322.0,256.0Z" fill="#000" filter="url(#fYm)"/>
<path d="M396.0,329.0 L399.0,333.0 L372.0,353.0 L364.0,358.0 L362.0,354.0 L376.0,342.0Z" fill="#000" filter="url(#fYs)"/>
<path d="M300.0,228.0 L345.0,240.0 L390.0,320.0 L380.0,345.0 L350.0,360.0 L330.0,300.0Z" fill="#000" filter="url(#sY)"/>
<path d="M494.0,410.0 L488.0,426.0 L491.0,438.0 L497.0,446.0 L504.0,456.0 L515.0,465.0 L488.0,474.0 L484.0,483.0 L466.0,474.0 L455.0,454.0 L444.0,449.0 L422.0,445.0 L400.0,454.0 L380.0,455.0 L362.0,462.0 L352.0,474.0 L356.0,500.0 L362.0,524.0 L357.0,539.0 L366.0,552.0 L366.0,760.0 L740.0,760.0 L740.0,340.0 L494.0,340.0Z" fill="#000" filter="url(#fRm)"/>
<path d="M484.0,449.0 L500.0,446.0 L514.0,456.0 L516.0,468.0 L504.0,476.0 L490.0,474.0 L482.0,462.0Z" fill="#000" filter="url(#fDGm)"/>
<path d="M424.0,498.0 L440.0,494.0 L456.0,500.0 L458.0,512.0 L446.0,520.0 L430.0,518.0 L422.0,508.0Z" fill="#000" filter="url(#fDGm)"/>
<path d="M377.0,506.0 L388.0,502.0 L396.0,512.0 L392.0,524.0 L380.0,524.0Z" fill="#000" filter="url(#fDGs)"/>
<path d="M466.0,510.0 L478.0,508.0 L483.0,518.0 L476.0,525.0 L467.0,521.0Z" fill="#000" filter="url(#fDGs)"/>
<path d="M565.0,494.0 L580.0,490.0 L590.0,500.0 L588.0,514.0 L576.0,521.0 L566.0,512.0Z" fill="#000" filter="url(#fDGm)"/>
<path d="M380.0,455.0 L480.0,455.0 L520.0,500.0 L480.0,545.0 L370.0,548.0 L356.0,500.0Z" fill="#000" filter="url(#sDG)"/>
<path d="M398.0,447.0 L440.0,445.0 L470.0,450.0 L482.0,476.0 L470.0,520.0 L415.0,522.0 L398.0,500.0Z" fill="#000" filter="url(#mDG3)"/>
<path d="M467.0,420.0 L487.0,419.0 L489.0,438.0 L468.0,439.0Z" fill="#000" filter="url(#fRm)"/>
<path d="M453.0,400.0 L480.0,400.0 L490.0,418.0 L470.0,420.0 L460.0,412.0Z" fill="#000" filter="url(#sR2)"/>
<path d="M358.0,508.0 L380.0,505.0 L398.0,510.0 L396.0,526.0 L380.0,527.0 L362.0,524.0Z" fill="#000" filter="url(#fDGs)"/>
<path d="M150.0,440.0 L330.0,430.0 L360.0,560.0 L300.0,620.0 L170.0,700.0 L140.0,520.0Z" fill="#000" filter="url(#sLG3)"/>
<path d="M235.0,563.0 L246.0,560.0 L257.0,566.0 L259.0,578.0 L250.0,583.0 L238.0,580.0 L233.0,572.0Z" fill="#000" filter="url(#fRm)"/>
<path d="M222.0,535.0 L227.0,548.0 L234.0,562.0" fill="none" stroke="#000" stroke-width="7" stroke-linejoin="round" stroke-linecap="round" filter="url(#fRs)"/>
<path d="M245.0,553.0 L253.0,553.0 L254.0,563.0 L246.0,564.0Z" fill="#000" filter="url(#fRs)"/>
<path d="M190.0,648.0 L203.0,634.0 L218.0,631.0 L230.0,638.0 L232.0,654.0 L220.0,664.0 L200.0,672.0 L188.0,664.0Z" fill="#000" filter="url(#fRm)"/>
<path d="M183.0,640.0 L200.0,630.0 L224.0,630.0 L234.0,648.0 L226.0,668.0 L200.0,678.0 L184.0,672.0Z" fill="#000" filter="url(#sR2)"/>
<path d="M300.0,565.0 L312.0,563.0 L318.0,574.0 L314.0,586.0 L302.0,585.0Z" fill="#000" filter="url(#fRs)"/>
<path d="M300.0,543.0 L308.0,542.0 L309.0,554.0 L301.0,555.0Z" fill="#000" filter="url(#fRs)"/>
<path d="M298.0,544.0 L314.0,543.0 L315.0,552.0 L299.0,553.0Z" fill="#000" filter="url(#fRs)"/>
<path d="M240.0,633.0 L251.0,632.0 L251.0,643.0 L241.0,644.0Z" fill="#000" filter="url(#fRs)"/>
<path d="M256.0,618.0 L266.0,617.0 L267.0,629.0 L257.0,630.0Z" fill="#000" filter="url(#fRs)"/>
<path d="M267.0,607.0 L288.0,606.0 L289.0,617.0 L268.0,619.0Z" fill="#000" filter="url(#fRs)"/>
<path d="M185.0,582.0 L194.0,582.0 L194.0,590.0 L185.0,590.0Z" fill="#000" filter="url(#fRs)"/>
<path d="M227.0,608.0 L236.0,608.0 L236.0,617.0 L227.0,617.0Z" fill="#000" filter="url(#fRs)"/>
<path d="M245.0,588.0 L251.0,588.0 L251.0,597.0 L245.0,597.0Z" fill="#000" filter="url(#fRs)"/>
<path d="M197.0,494.0 L209.0,493.0 L211.0,510.0 L199.0,511.0Z" fill="#000" filter="url(#fRs)"/>
<path d="M200.0,512.0 L214.0,512.0 L214.0,524.0 L202.0,524.0Z" fill="#000" filter="url(#fRs)"/>
<path d="M280.0,468.0 L290.0,467.0 L291.0,476.0 L281.0,477.0Z" fill="#000" filter="url(#fRs)"/>
<path d="M281.0,478.0 L291.0,478.0 L292.0,487.0 L282.0,487.0Z" fill="#000" filter="url(#fRs)"/>
<path d="M344.0,550.0 L361.0,547.0 L362.0,566.0 L352.0,579.0 L344.0,572.0Z" fill="#000" filter="url(#fRm)"/>
<path d="M337.0,484.0 L346.0,484.0 L346.0,495.0 L337.0,495.0Z" fill="#000" filter="url(#fRs)"/>
<path d="M335.0,455.0 L357.0,453.0 L357.0,464.0 L336.0,465.0Z" fill="#000" filter="url(#fRs)"/>
<path d="M340.0,456.0 L352.0,455.0 L352.0,466.0 L340.0,466.0Z" fill="#000" filter="url(#fRs)"/>
<path d="M170.0,440.0 L330.0,430.0 L360.0,560.0 L300.0,620.0 L170.0,700.0 L150.0,520.0Z" fill="#000" filter="url(#sR)"/>
<path d="M114.0,381.0 L124.5,383.3 L127.2,392.0 L134.2,398.4 L142.0,398.6 L154.0,397.8 L161.0,403.0 L155.2,406.5 L153.2,419.6 L148.8,426.2 L144.0,430.0 L134.0,414.0 L143.0,408.6 L141.0,400.0 L133.0,400.6 L129.0,405.0 L117.0,386.0Z" fill="#800000"/>
<path d="M213.5,266.5 L223.0,266.0 L229.0,269.0 L228.0,279.0 L223.0,287.0 L220.0,282.0 L218.5,272.6Z" fill="#a81208"/>
<path d="M210.5,302.3 L220.0,299.5 L223.0,306.0 L225.0,311.0 L229.0,314.0 L239.0,318.0 L232.0,322.0 L224.0,317.5 L212.5,316.7 L209.6,307.0Z" fill="#a81208"/>
<path d="M239.0,284.0 L248.0,283.3 L249.5,290.8 L240.5,291.5Z" fill="#267300"/>
<path d="M484.0,491.0 L499.0,498.0 L515.0,509.0 L533.0,520.0 L533.0,543.0 L532.0,565.0 L540.0,582.0 L550.0,609.0 L559.0,627.0 L556.0,640.0" fill="none" stroke="#000" stroke-width="8" stroke-linejoin="round" stroke-linecap="round" filter="url(#fDRs)"/>
<path d="M535.0,523.0 L550.0,532.0 L564.0,537.0 L577.0,530.0 L595.0,532.0 L612.0,534.0 L630.0,525.0 L644.0,516.0" fill="none" stroke="#000" stroke-width="6" stroke-linejoin="round" stroke-linecap="round" filter="url(#fDRs)"/>
<path d="M611.0,497.0 L640.0,495.0 L664.0,506.0 L650.0,526.0 L634.0,558.0 L622.0,576.0 L609.0,560.0 L605.0,530.0Z" fill="#000" filter="url(#mDR2)"/>
<path d="M634.0,498.0 L664.0,506.0 L654.0,522.0 L642.0,516.0Z" fill="#000" filter="url(#fDRs)"/>
<path d="M506.0,636.0 L540.0,628.0 L568.0,648.0 L548.0,682.0 L536.0,698.0 L518.0,672.0Z" fill="#000" filter="url(#mDR)"/>
<path d="M510.0,640.0 L540.0,632.0 L564.0,650.0 L546.0,680.0 L536.0,696.0 L520.0,670.0Z" fill="#000" filter="url(#mDR2)"/>
<path d="M524.0,654.0 L538.0,648.0 L548.0,660.0 L538.0,672.0 L528.0,668.0Z" fill="#000" filter="url(#fDRs)"/>
<path d="M491.0,554.0 L522.0,550.0 L526.0,570.0 L496.0,574.0Z" fill="#000" filter="url(#mDR)"/>
<path d="M490.0,480.0 L670.0,480.0 L670.0,560.0 L600.0,640.0 L540.0,700.0 L500.0,640.0Z" fill="#000" filter="url(#sDR)"/>
<path d="M502.0,582.0 L513.0,582.0 L513.0,593.0 L502.0,593.0Z" fill="#000" filter="url(#fOLs)"/>
<path d="M551.0,560.0 L558.0,560.0 L558.0,569.0 L551.0,569.0Z" fill="#000" filter="url(#fOLs)"/>
<path d="M503.0,584.0 L512.0,583.0 L512.0,594.0 L504.0,594.0Z" fill="#000" filter="url(#fOLs)"/>
<path d="M522.0,598.0 L530.0,598.0 L530.0,607.0 L522.0,607.0Z" fill="#000" filter="url(#fOLs)"/>
<path d="M551.0,558.0 L559.0,558.0 L559.0,570.0 L551.0,570.0Z" fill="#000" filter="url(#fOLs)"/>
<path d="M335.0,340.0 L400.0,330.0 L470.0,400.0 L470.0,450.0 L360.0,460.0 L320.0,470.0 L300.0,430.0Z" fill="#000" filter="url(#sLG)"/>
<path d="M282.0,402.0 L336.0,410.0 L342.0,470.0 L314.0,480.0 L300.0,456.0 L284.0,430.0Z" fill="#000" filter="url(#sLG4)"/>
<path d="M158.5,470.5 L167.5,470.0 L168.0,479.5 L159.0,480.0Z" fill="#000" filter="url(#fLGs)"/>
<path d="M156.0,485.0 L161.0,485.0 L161.0,491.0 L156.0,491.0Z" fill="#000" filter="url(#fLGs)"/>
<path d="M161.0,507.0 L174.0,506.0 L176.0,524.0 L164.0,525.0Z" fill="#000" filter="url(#fLGs)"/>
<path d="M160.0,530.0 L178.0,528.0 L184.0,545.0 L180.0,556.0 L168.0,556.0Z" fill="#000" filter="url(#fLGm)"/>
<path d="M330.0,330.0 L372.0,345.0 L366.0,420.0 L345.0,440.0 L325.0,420.0 L328.0,370.0Z" fill="#000" filter="url(#sLG2)"/>
<path d="M322.0,380.0 L333.0,379.0 L334.0,393.0 L323.0,394.0Z" fill="#000" filter="url(#fRs)"/>
<path d="M315.0,370.0 L329.0,369.0 L330.0,384.0 L316.0,385.0Z" fill="#000" filter="url(#fBRs)"/>
<path d="M353.0,377.0 L363.0,377.0 L363.0,386.0 L353.0,386.0Z" fill="#000" filter="url(#fBRs)"/>
<path d="M265.6,213.0 L275.0,224.4 L277.0,247.0 L292.0,264.0 L312.5,275.0 L324.0,293.0 L342.0,301.5 L331.0,315.0 L328.7,330.0 L340.0,350.0 L355.0,374.0 L366.0,383.0" fill="none" stroke="#4f6a00" stroke-width="1.2" stroke-linejoin="round" stroke-linecap="round"/>
<path d="M262.0,362.0 L280.0,368.0 L295.0,375.0 L315.0,395.0 L317.0,417.0 L326.0,446.0 L330.0,464.0 L353.0,486.0 L356.0,508.0 L363.0,524.0 L357.0,539.0 L367.0,550.0" fill="none" stroke="#d8e000" stroke-width="2.6" stroke-linejoin="round" stroke-linecap="round"/>
<path d="M262.0,362.0 L280.0,368.0 L295.0,375.0 L315.0,395.0 L317.0,417.0 L326.0,446.0 L330.0,464.0 L353.0,486.0 L356.0,508.0 L363.0,524.0 L357.0,539.0 L367.0,550.0" fill="none" stroke="#9a3a0a" stroke-width="1.4" stroke-linejoin="round" stroke-linecap="round"/>
</g></g>
<path d="M297.3,831.3V837.3H476.6V831.3M319.7,834.5V837.3M342.1,833.9V837.3M364.5,834.5V837.3M387.0,833.9V837.3M409.4,834.5V837.3M431.8,833.9V837.3M454.2,834.5V837.3" stroke="#333" stroke-width="1.1" fill="none"/>
<text class="sb" x="297.3" y="829.4" text-anchor="middle">0</text>
<text class="sb" x="342.1" y="829.4" text-anchor="middle">25</text>
<text class="sb" x="387.0" y="829.4" text-anchor="middle">50</text>
<text class="sb" x="471.6" y="829.4">100 Kilometers</text>
<rect x="103.4" y="868.4" width="526.4" height="123.3" fill="#fff" stroke="#222" stroke-width="1.3"/>
<text x="116.3" y="896.4" font-size="17.5" font-weight="bold" fill="#111">NDVI 2010</text>
<rect x="116" y="911.4" width="35.6" height="18.6" fill="#ffff00" stroke="#8a8a6a" stroke-width="0.7"/>
<rect x="116" y="936.4" width="35.6" height="18.6" fill="#55ff00" stroke="#8a8a6a" stroke-width="0.7"/>
<rect x="116" y="961.6" width="35.6" height="18.6" fill="#267300" stroke="#8a8a6a" stroke-width="0.7"/>
<rect x="376.2" y="911.4" width="35.6" height="18.6" fill="#ff0000" stroke="#8a8a6a" stroke-width="0.7"/>
<rect x="376.2" y="936.4" width="35.6" height="18.6" fill="#730000" stroke="#8a8a6a" stroke-width="0.7"/>
<text class="lg" x="162.4" y="925.4" xml:space="preserve">Very Low Risk  (-0.114818_ 0.23000</text>
<text class="lg" x="158.6" y="950.6" xml:space="preserve">Low Risk  (0.23000_ 0.35000</text>
<text class="lg" x="162.4" y="975.6" xml:space="preserve">Moderate  Risk (0.35000_0.5000</text>
<text class="lg" x="422.6" y="925.4" xml:space="preserve">High Risk  (0.5000_ 0.6000</text>
<text class="lg" x="418.6" y="950.6" xml:space="preserve">Very High Risk  ( 0.6000_0.793048</text>
</svg>
</body></html>
